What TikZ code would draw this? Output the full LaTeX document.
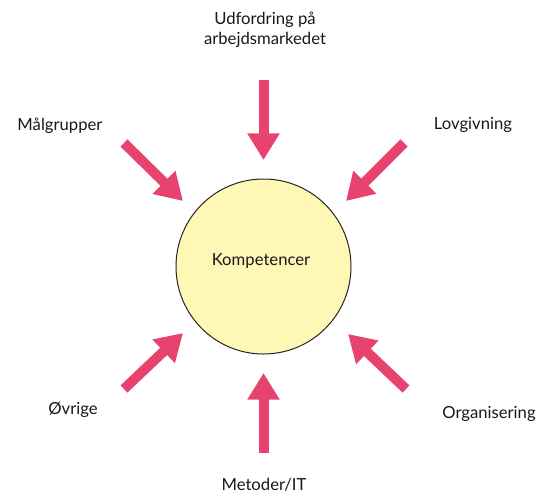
\documentclass[tikz,border=0pt]{standalone}
\usepackage{fontspec}
\setmainfont{Lato}
\usetikzlibrary{arrows.meta}

\definecolor{pilrod}{RGB}{232,66,111}
\definecolor{kompgul}{RGB}{255,247,181}

\tikzset{every picture/.style={line width=0.75pt}}
\tikzset{
  pil/.style={draw=pilrod, line width=7.5pt, -{Triangle[width=23pt,length=20pt]}},
  etiket/.style={font=\fontsize{12.5}{15}\selectfont, text=black!90, align=center, inner sep=0.75pt}
}

\begin{document}
\begin{tikzpicture}[x=0.75pt,y=0.75pt,yscale=-1,xscale=1]
\useasboundingbox (0,0) rectangle (538,496);

%Shape: Circle
\node (komp) [circle, draw=black!85, fill=kompgul, minimum size=175*0.75pt, inner sep=0pt] at (263.5,266.5) {};
% Text Node
\node (komptekst) [etiket] at (261,261) {Kompetencer};

% Text Node
\node (udf) [etiket] at (265,30) {Udfordring på\\arbejdsmarkedet};
% Text Node
\node (maal) [etiket] at (60,126) {Målgrupper};
% Text Node
\node (lov) [etiket] at (473,125) {Lovgivning};
% Text Node
\node (ovr) [etiket] at (73,410) {Øvrige};
% Text Node
\node (org) [etiket] at (489,414) {Organisering};
% Text Node
\node (met) [etiket] at (264,485) {Metoder/IT};

%Arrow ends
\coordinate (udfA) at (263.5,80);  \coordinate (udfB) at (263.5,160);
\coordinate (maalA) at (124,143);  \coordinate (maalB) at (183,201);
\coordinate (lovA) at (404,143);   \coordinate (lovB) at (346,201);
\coordinate (ovrA) at (124,389);   \coordinate (ovrB) at (183,333);
\coordinate (orgA) at (406,389);   \coordinate (orgB) at (348,334);
\coordinate (metA) at (263.5,453); \coordinate (metB) at (263.5,373);

%Arrows
\draw [pil] (udfA) -- (udfB);
\draw [pil] (maalA) -- (maalB);
\draw [pil] (lovA) -- (lovB);
\draw [pil] (ovrA) -- (ovrB);
\draw [pil] (orgA) -- (orgB);
\draw [pil] (metA) -- (metB);

\end{tikzpicture}
\end{document}
